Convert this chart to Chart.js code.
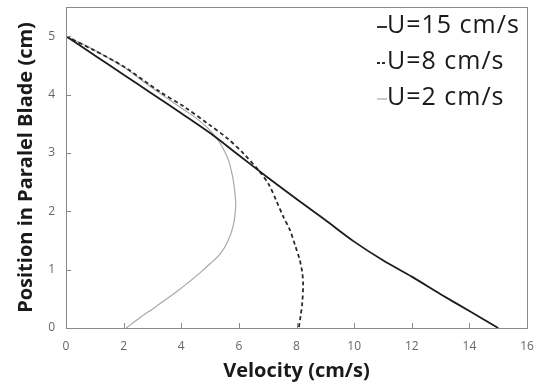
<!DOCTYPE html>
<html>
<head>
<meta charset="utf-8">
<script src="https://cdn.jsdelivr.net/npm/chart.js@4.4.1/dist/chart.umd.min.js"></script>
<style>
  html, body { margin: 0; padding: 0; background: #fff; }
  #wrap { width: 534px; height: 383px; }
</style>
</head>
<body>
<div id="wrap"><canvas id="chart"></canvas></div>
<script>
// Series labels
const seriesLabels = ["U=15 cm/s", "U=8 cm/s", "U=2 cm/s"];

// U=15 cm/s (velocity, position)
const vel15 = [0, 1, 2, 3, 4, 5, 6, 7, 8, 9, 10, 11, 12, 13, 14, 15];
const pos15 = [5, 4.67, 4.34, 4.01, 3.68, 3.34, 2.96, 2.58, 2.21, 1.85, 1.48, 1.16, 0.88, 0.58, 0.29, 0];

// U=8 cm/s
const vel8 = [0, 0.93, 2, 3.25, 4.1, 4.98, 5.6, 6.14, 6.72, 7.05, 7.3, 7.55, 7.77, 7.95, 8.11, 8.2, 8.23, 8.2, 8.14, 8.08];
const pos8 = [5, 4.77, 4.48, 4.05, 3.79, 3.48, 3.25, 3.0, 2.68, 2.45, 2.18, 1.9, 1.68, 1.42, 1.17, 0.95, 0.75, 0.43, 0.2, 0];

// U=2 cm/s
const vel2 = [0, 1, 2, 3, 4, 4.5, 4.87, 5.2, 5.45, 5.65, 5.78, 5.85, 5.89, 5.8, 5.6, 5.35, 5.0, 4.64, 3.94, 3.13, 2.55, 2.09];
const pos2 = [5, 4.76, 4.47, 4.11, 3.77, 3.6, 3.45, 3.27, 3.08, 2.86, 2.6, 2.37, 2.08, 1.74, 1.47, 1.27, 1.1, 0.94, 0.66, 0.37, 0.17, 0];

const seriesColors = ["#1c1c1c", "#2a2a2a", "#a8a8a8"];
const seriesDash = [[], [4, 3], []];
const seriesWidth = [1.8, 1.8, 1.2];

function toPoints(xs, ys) {
  return xs.map((x, i) => ({ x: x, y: ys[i] }));
}

// frame, inner tick marks and in-plot legend
const framePlugin = {
  id: "frame",
  afterDraw(chart) {
    const ctx = chart.ctx;
    const area = chart.chartArea;
    const xs = chart.scales.x;
    const ys = chart.scales.y;
    ctx.save();
    ctx.strokeStyle = "#8a8a8a";
    ctx.lineWidth = 1;
    ctx.strokeRect(area.left + 0.5, area.top + 0.5, area.right - area.left, area.bottom - area.top);

    ctx.beginPath();
    xs.ticks.forEach(t => {
      const px = Math.round(xs.getPixelForValue(t.value)) + 0.5;
      ctx.moveTo(px, area.bottom);
      ctx.lineTo(px, area.bottom - 5);
    });
    ys.ticks.forEach(t => {
      const py = Math.round(ys.getPixelForValue(t.value)) + 0.5;
      ctx.moveTo(area.left, py);
      ctx.lineTo(area.left + 5, py);
    });
    ctx.stroke();

    // legend
    ctx.font = "25px 'Open Sans'";
    ctx.letterSpacing = "1px";
    ctx.textBaseline = "middle";
    ctx.fillStyle = "#1a1a1a";
    const lx = area.right - 140;
    chart.data.datasets.forEach((ds, i) => {
      const ly = area.top + 19 + i * 36;
      ctx.strokeStyle = ds.borderColor;
      ctx.lineWidth = ds.borderWidth;
      ctx.setLineDash(i === 1 ? [3, 2] : []);
      ctx.beginPath();
      ctx.moveTo(lx - 10, ly + 1);
      ctx.lineTo(lx, ly + 1);
      ctx.stroke();
      ctx.setLineDash([]);
      ctx.fillText(ds.label, lx, ly);
    });
    ctx.restore();
  }
};

new Chart(document.getElementById("chart"), {
  type: "scatter",
  data: {
    datasets: [
      { label: seriesLabels[0], data: toPoints(vel15, pos15) },
      { label: seriesLabels[1], data: toPoints(vel8, pos8) },
      { label: seriesLabels[2], data: toPoints(vel2, pos2) }
    ].map((ds, i) => Object.assign(ds, {
      showLine: true,
      borderColor: seriesColors[i],
      borderWidth: seriesWidth[i],
      borderDash: seriesDash[i],
      pointRadius: 0,
      tension: 0.3,
      fill: false
    }))
  },
  options: {
    responsive: true,
    maintainAspectRatio: false,
    animation: false,
    layout: { autoPadding: false, padding: { top: 7, right: 7, left: 0, bottom: 0 } },
    plugins: {
      legend: { display: false },
      tooltip: { enabled: false }
    },
    scales: {
      x: {
        type: "linear",
        min: 0,
        max: 16,
        grid: { display: false, drawTicks: false },
        border: { display: false },
        ticks: {
          stepSize: 2,
          color: "#666",
          padding: 11,
          font: { family: "'Open Sans'", size: 12 }
        },
        title: {
          display: true,
          text: "Velocity (cm/s)",
          color: "#1a1a1a",
          padding: { top: 0, bottom: 0 },
          font: { family: "'Open Sans'", size: 20, weight: "bold" }
        },
        afterFit(scale) {
          scale.height = 55;
          scale.paddingLeft = 0;
          scale.paddingRight = 0;
        }
      },
      y: {
        type: "linear",
        min: 0,
        max: 5.5,
        grid: { display: false, drawTicks: false },
        border: { display: false },
        ticks: {
          stepSize: 1,
          color: "#666",
          padding: 11,
          font: { family: "'Open Sans'", size: 12 },
          callback: function(value) {
            return Number.isInteger(value) ? value : "";
          }
        },
        title: {
          display: true,
          text: "Position in Paralel Blade (cm)",
          color: "#1a1a1a",
          padding: { top: 14, bottom: 0 },
          font: { family: "'Open Sans'", size: 20, weight: "bold" }
        },
        afterFit(scale) {
          scale.width = 66;
          scale.paddingTop = 0;
          scale.paddingBottom = 0;
        }
      }
    }
  },
  plugins: [framePlugin]
});
</script>
</body>
</html>
